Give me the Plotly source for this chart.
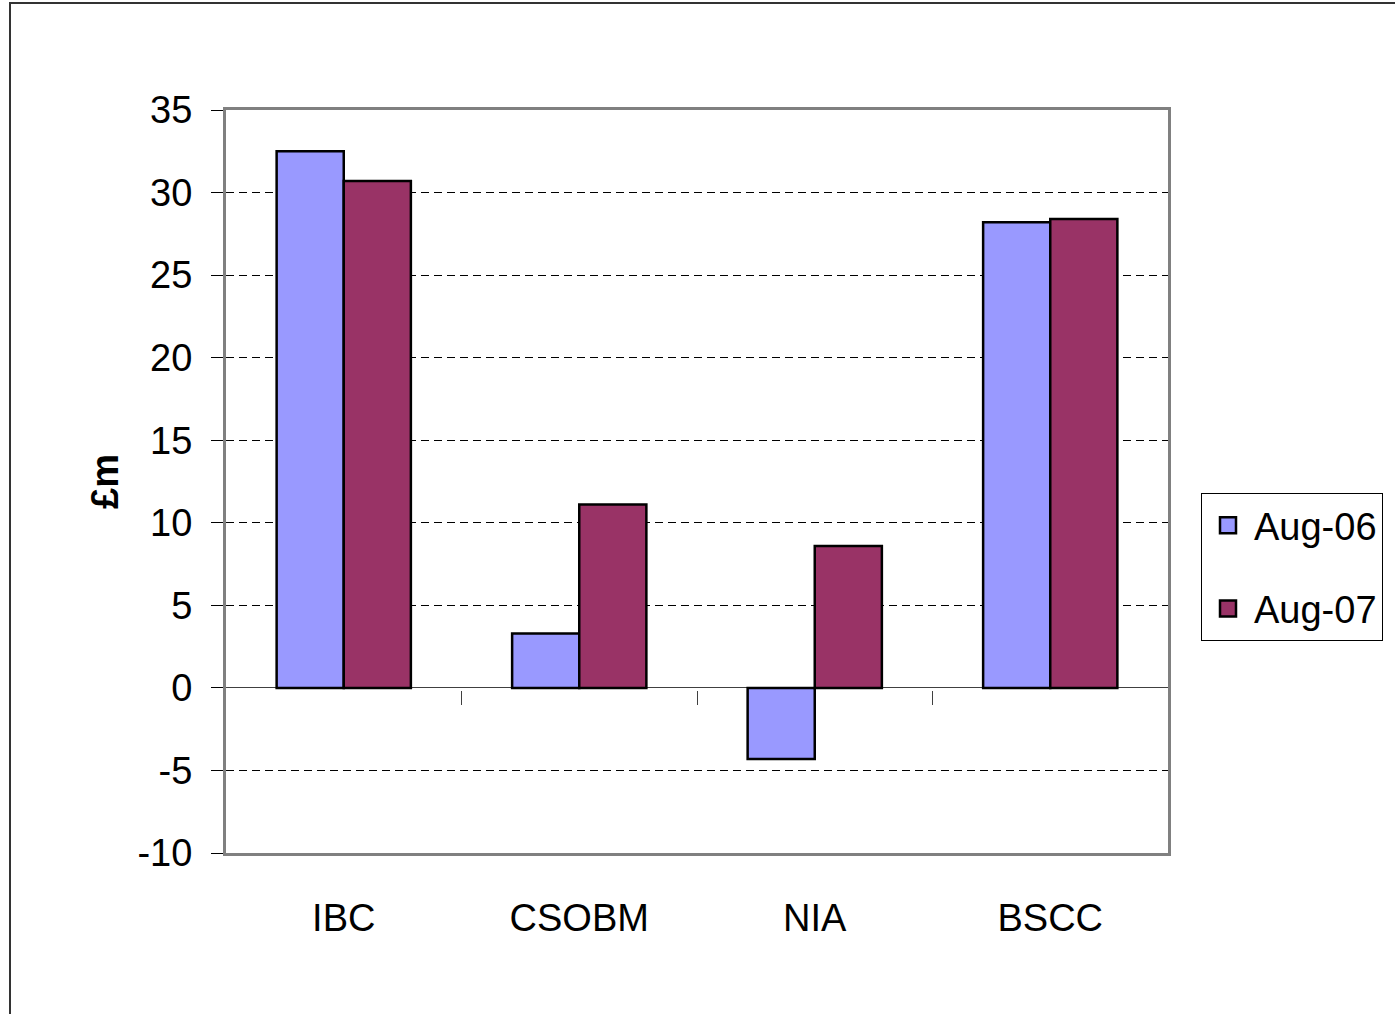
import plotly.graph_objects as go

categories = ["IBC", "CSOBM", "NIA", "BSCC"]
aug06 = [32.5, 3.3, -4.3, 28.2]
aug07 = [30.7, 11.1, 8.6, 28.4]
series_names = ["Aug-06", "Aug-07"]
colors = ["#9999FF", "#993366"]
y_ticks = [-10, -5, 0, 5, 10, 15, 20, 25, 30, 35]
y_tick_text = ["-10", "-5", "0", "5", "10", "15", "20", "25", "30", "35"]
boundaries = [0.5, 1.5, 2.5]

W, H = 1395, 1014
L, R, T, B = 226, 1168, 110, 853
FONT = "Liberation Sans, Arial, sans-serif"

xs = list(range(len(categories)))
fig = go.Figure()
for name, vals, col in zip(series_names, [aug06, aug07], colors):
    fig.add_trace(go.Bar(x=xs, y=vals, name=name, marker=dict(color=col, line=dict(color="black", width=2.5)),
                         showlegend=False))
for name, col in zip(series_names, colors):
    fig.add_trace(go.Scatter(x=[None], y=[None], mode="markers", name=name, legendgroup=name, xaxis="x2",
                             marker=dict(symbol="square", size=22, color=col, line=dict(color="black", width=2.5))))

def px(x):
    return (x - L) / (R - L)

def py(y):
    return (B - y) / (B - T)

fig.update_layout(
    width=W, height=H,
    margin=dict(l=L, r=W - R, t=T, b=H - B, autoexpand=False),
    paper_bgcolor="white", plot_bgcolor="white",
    font=dict(family=FONT, size=38, color="black"),
    barmode="group", bargap=0.43, bargroupgap=0,
    legend=dict(x=px(1201), y=py(493), xanchor="left", yanchor="top",
                bordercolor="black", borderwidth=1, bgcolor="white",
                font=dict(size=38), tracegroupgap=31, itemwidth=42),
    xaxis=dict(range=[-0.5, 3.5], tickmode="array", tickvals=xs, ticktext=categories,
               showgrid=False, zeroline=False, ticks="", ticklabelstandoff=29,
               showline=True, linecolor="#808080", linewidth=3, mirror=True),
    xaxis2=dict(range=[-0.5, 3.5], overlaying="x", anchor="free", position=py(690),
                tickmode="array", tickvals=boundaries, ticks="outside", ticklen=14,
                tickcolor="#404040", tickwidth=1, showticklabels=False, showgrid=False,
                showline=False, zeroline=False),
    yaxis=dict(range=[-10, 35], tickmode="array", tickvals=y_ticks, ticktext=y_tick_text,
               ticks="outside", ticklen=12, tickcolor="black", tickwidth=1,
               ticklabelstandoff=11,
               showgrid=True, gridcolor="black", gridwidth=1, griddash="8px,5px",
               zeroline=True, zerolinecolor="#404040", zerolinewidth=1,
               showline=True, linecolor="#808080", linewidth=3, mirror=True,
               title=dict(text="<b>£m</b>", standoff=8, font=dict(size=38))),
    shapes=[dict(type="rect", xref="paper", yref="paper",
                 x0=px(10), x1=px(1420), y0=py(1030), y1=py(3),
                 line=dict(color="#333333", width=2), layer="below")],
)
fig.write_html("out.html", config={"displayModeBar": False},
               post_script="document.body.style.margin='0';document.body.style.overflow='hidden';")
